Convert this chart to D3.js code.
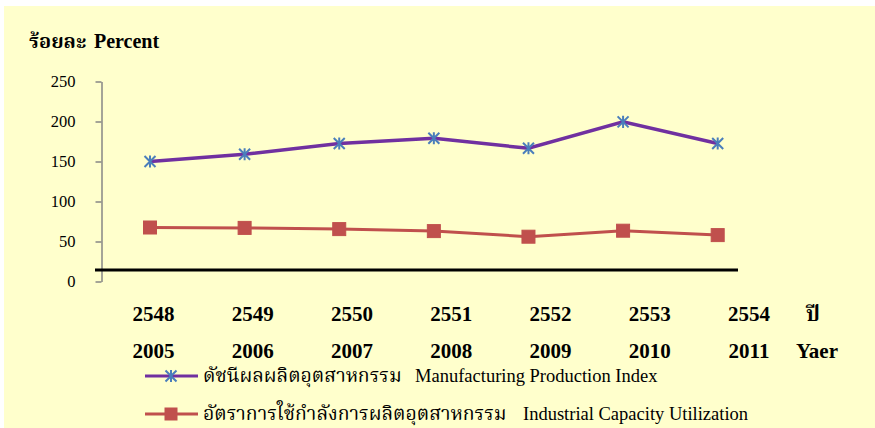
<!DOCTYPE html>
<html>
<head>
<meta charset="utf-8">
<script src="https://cdn.jsdelivr.net/npm/d3@7"></script>
<style>
	body { margin: 0; background: #fff; }
	svg { display: block; }
</style>
</head>
<body>
<svg></svg>
<script>
const years = ['2005', '2006', '2007', '2008', '2009', '2010', '2011'];
const thaiYears = ['2548', '2549', '2550', '2551', '2552', '2553', '2554'];
const manufacturing = [150, 159, 172.5, 179, 166.5, 199.5, 172.5];
const capacity = [67.5, 67, 65.5, 63, 56, 63.5, 58];
const yTicks = [0, 50, 100, 150, 200, 250];
const seriesThai = ['ดัชนีผลผลิตอุตสาหกรรม', 'อัตราการใช้กำลังการผลิตอุตสาหกรรม'];
const seriesEnglish = ['Manufacturing Production Index', 'Industrial Capacity Utilization'];

const width = 875;
const height = 428;
const serif = "'Liberation Serif', 'Times New Roman', 'Norasi', 'Noto Serif Thai', 'Noto Sans Thai Looped', 'Loma', 'DejaVu Serif', serif";

const svg = d3.select('svg')
	.attr('width', width)
	.attr('height', height);

svg.append('rect')
	.attr('x', 4)
	.attr('y', 6)
	.attr('width', width - 4)
	.attr('height', height - 6)
	.attr('fill', '#ffffcc');

const xScale = d3.scalePoint()
	.domain(years)
	.range([150, 717.7]);

const labelScale = d3.scalePoint()
	.domain(years)
	.range([153.5, 749]);

const yScale = d3.scaleLinear()
	.domain([0, 250])
	.range([281.5, 81.5]);

// y axis
const yAxis = d3.axisLeft(yScale)
	.tickValues(yTicks)
	.tickSize(6)
	.tickSizeOuter(0)
	.tickPadding(20);

const yAxisGroup = svg.append('g')
	.attr('transform', 'translate(101.5,0)')
	.call(yAxis)
	.attr('font-family', null)
	.attr('font-size', null);

yAxisGroup.select('.domain')
	.attr('stroke', '#868686')
	.attr('stroke-width', 1.5);
yAxisGroup.selectAll('.tick line')
	.attr('stroke', '#868686')
	.attr('stroke-width', 1.5);
yAxisGroup.selectAll('.tick text')
	.style('font-family', serif)
	.style('font-size', '16.5px')
	.attr('fill', '#000');

const title = svg.append('text')
	.attr('x', 29)
	.attr('y', 48)
	.style('font-family', serif)
	.style('font-size', '20px')
	.style('font-weight', 'bold');
title.append('tspan').text('ร้อยละ');
title.append('tspan').attr('x', 94).text('Percent');

// black baseline
svg.append('line')
	.attr('x1', 95)
	.attr('x2', 738)
	.attr('y1', 270)
	.attr('y2', 270)
	.attr('stroke', '#000')
	.attr('stroke-width', 3);

// category labels
const boldLabel = sel => sel
	.style('font-family', serif)
	.style('font-size', '21px')
	.style('font-weight', 'bold')
	.attr('text-anchor', 'middle');

svg.selectAll('.xlab-th')
	.data(thaiYears)
	.join('text')
	.attr('class', 'xlab-th')
	.attr('x', (d, i) => labelScale(years[i]))
	.attr('y', 321)
	.call(boldLabel)
	.text(d => d);

svg.selectAll('.xlab-en')
	.data(years)
	.join('text')
	.attr('class', 'xlab-en')
	.attr('x', d => labelScale(d))
	.attr('y', 358)
	.call(boldLabel)
	.text(d => d);

svg.append('text')
	.attr('x', 813)
	.attr('y', 321)
	.call(boldLabel)
	.text('ปี');

svg.append('text')
	.attr('x', 817)
	.attr('y', 358)
	.call(boldLabel)
	.text('Yaer');

// lines
const lineGenerator = d3.line()
	.x((d, i) => xScale(years[i]))
	.y(d => yScale(d));

svg.append('path')
	.attr('d', lineGenerator(capacity))
	.attr('fill', 'none')
	.attr('stroke', '#c0504d')
	.attr('stroke-width', 3);

svg.append('path')
	.attr('d', lineGenerator(manufacturing))
	.attr('fill', 'none')
	.attr('stroke', '#7030a0')
	.attr('stroke-width', 3.5);

const starPath = s => `M${-s},${-s}L${s},${s}M${-s},${s}L${s},${-s}M0,${-s * 1.1}L0,${s * 1.1}`;

svg.selectAll('.star')
	.data(manufacturing)
	.join('path')
	.attr('class', 'star')
	.attr('transform', (d, i) => `translate(${xScale(years[i])},${yScale(d)})`)
	.attr('d', starPath(5.5))
	.attr('stroke', '#4a7ebb')
	.attr('stroke-width', 2)
	.attr('fill', 'none');

svg.selectAll('.square')
	.data(capacity)
	.join('rect')
	.attr('class', 'square')
	.attr('x', (d, i) => xScale(years[i]) - 6.5)
	.attr('y', d => yScale(d) - 6.5)
	.attr('width', 13)
	.attr('height', 13)
	.attr('fill', '#c0504d')
	.attr('stroke', '#c0504d');

// legend
const legendRows = svg.append('g')
	.selectAll('g')
	.data(seriesThai)
	.join('g')
	.attr('transform', (d, i) => `translate(0,${i === 0 ? 376 : 414})`);

legendRows.append('line')
	.attr('x1', 145)
	.attr('x2', 198)
	.attr('stroke', (d, i) => i === 0 ? '#7030a0' : '#c0504d')
	.attr('stroke-width', 3);

legendRows.filter((d, i) => i === 0)
	.append('path')
	.attr('transform', 'translate(171,0)')
	.attr('d', starPath(5.5))
	.attr('stroke', '#4a7ebb')
	.attr('stroke-width', 2);

legendRows.filter((d, i) => i === 1)
	.append('rect')
	.attr('x', 171 - 6.5)
	.attr('y', -6.5)
	.attr('width', 13)
	.attr('height', 13)
	.attr('fill', '#c0504d');

legendRows.append('text')
	.attr('x', 203)
	.attr('y', 6)
	.style('font-family', serif)
	.style('font-size', '19.4px')
	.text(d => d);

legendRows.append('text')
	.attr('x', (d, i) => i === 0 ? 415 : 523)
	.attr('y', 6)
	.style('font-family', serif)
	.style('font-size', '18.5px')
	.text((d, i) => seriesEnglish[i]);
</script>
</body>
</html>
